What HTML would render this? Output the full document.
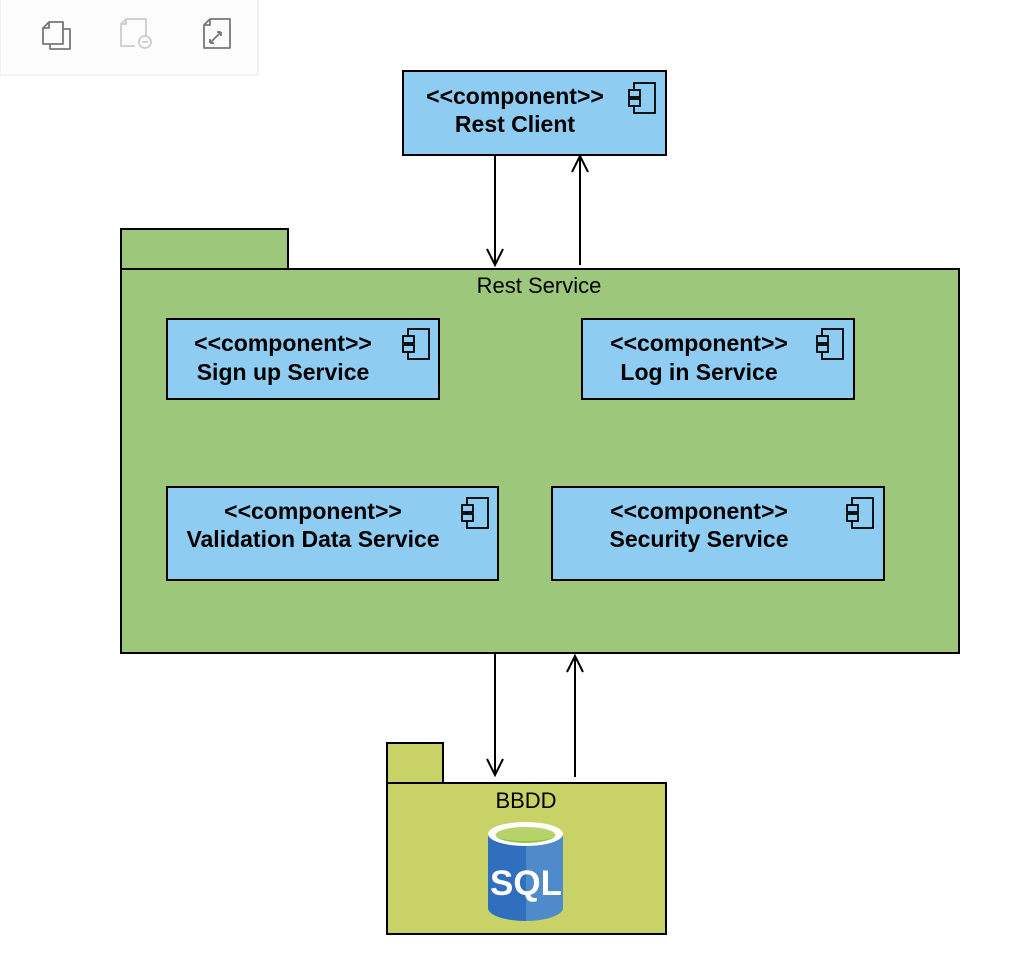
<!DOCTYPE html>
<html><head><meta charset="utf-8"><style>
html,body{margin:0;padding:0;background:#fff;}
svg{display:block;font-family:"Liberation Sans",Arial,sans-serif;}
.b{font-weight:bold;font-size:23px;text-anchor:middle;fill:#000;}
</style></head><body>
<svg width="1034" height="962" viewBox="0 0 1034 962" xmlns="http://www.w3.org/2000/svg">
<defs>
<g id="ic" fill="none" stroke="#000" stroke-width="1.8">
<rect x="5" y="0" width="21" height="30" fill="none"/>
<rect x="0" y="7" width="11" height="7" fill="#8fccf2"/>
<rect x="0" y="16" width="11" height="7" fill="#8fccf2"/>
</g>
</defs>
<!-- toolbar -->
<rect x="0" y="-1" width="258" height="76" fill="#fcfcfc" stroke="#eeeeee" stroke-width="1.5"/>
<g fill="none" stroke="#777" stroke-width="1.8" stroke-linejoin="round">
<path d="M50 29 h20 v20 h-20 z" fill="#fcfcfc"/>
<path d="M43 28 l6 -6 h14 v22 h-20 z" fill="#fcfcfc"/>
<path d="M43 28 h6 v-6"/>
</g>
<g fill="none" stroke="#ccc" stroke-width="1.8" stroke-linejoin="round">
<path d="M146 36 v-17 h-20 l-5 5 v22 h14"/>
<path d="M121 24 h5 v-5"/>
<circle cx="145" cy="42" r="6"/><path d="M142 42 h6"/>
</g>
<g fill="none" stroke="#777" stroke-width="1.8" stroke-linejoin="round">
<path d="M204 25 l6 -6 h20 v29 h-26 z"/><path d="M204 25 h6 v-6"/>
<path d="M210 43 l11 -11 M210 43 v-4 M210 43 h4 M221 32 h-4 M221 32 v4"/>
</g>
<!-- Rest client -->
<rect x="403" y="71" width="263" height="84" fill="#8fccf2" stroke="#000" stroke-width="2"/>
<text class="b" x="515" y="104">&lt;&lt;component&gt;&gt;</text>
<text class="b" x="515" y="132">Rest Client</text>
<use href="#ic" x="629" y="83"/>
<!-- Rest service package -->
<rect x="121" y="229" width="167" height="40" fill="#9dc77a" stroke="#000" stroke-width="2"/>
<rect x="121" y="269" width="838" height="384" fill="#9dc77a" stroke="#000" stroke-width="2"/>
<text x="539" y="293" font-size="22" text-anchor="middle">Rest Service</text>
<rect x="167" y="319" width="272" height="80" fill="#8fccf2" stroke="#000" stroke-width="2"/>
<text class="b" x="283" y="351">&lt;&lt;component&gt;&gt;</text>
<text class="b" x="283" y="380">Sign up Service</text>
<use href="#ic" x="403" y="329"/>
<rect x="582" y="319" width="272" height="80" fill="#8fccf2" stroke="#000" stroke-width="2"/>
<text class="b" x="699" y="351">&lt;&lt;component&gt;&gt;</text>
<text class="b" x="699" y="380">Log in Service</text>
<use href="#ic" x="817" y="329"/>
<rect x="167" y="487" width="331" height="93" fill="#8fccf2" stroke="#000" stroke-width="2"/>
<text class="b" x="313" y="519">&lt;&lt;component&gt;&gt;</text>
<text class="b" x="313" y="547">Validation Data Service</text>
<use href="#ic" x="462" y="498"/>
<rect x="552" y="487" width="332" height="93" fill="#8fccf2" stroke="#000" stroke-width="2"/>
<text class="b" x="699" y="519">&lt;&lt;component&gt;&gt;</text>
<text class="b" x="699" y="547">Security Service</text>
<use href="#ic" x="847" y="498"/>
<!-- arrows -->
<g stroke="#000" stroke-width="2" fill="none">
<path d="M495 155 V265 M487 249 L495 265 L503 249"/>
<path d="M580 265 V156 M572 172 L580 156 L588 172"/>
<path d="M495 653 V775 M487 759 L495 775 L503 759"/>
<path d="M575 777 V656 M567 672 L575 656 L583 672"/>
</g>
<!-- BBDD -->
<rect x="387" y="743" width="56" height="40" fill="#c9d267" stroke="#000" stroke-width="2"/>
<rect x="387" y="783" width="279" height="151" fill="#c9d267" stroke="#000" stroke-width="2"/>
<text x="526" y="808" font-size="22" text-anchor="middle">BBDD</text>
<path d="M488 834 V908 A37.5 13 0 0 0 526 921 V834 Z" fill="#2f6fbe"/>
<path d="M526 834 V921 A37.5 13 0 0 0 563 908 V834 Z" fill="#4f8acb"/>
<ellipse cx="525.5" cy="834" rx="37.5" ry="12" fill="#fff"/>
<ellipse cx="525.5" cy="835" rx="30" ry="8" fill="#b6d36a"/>
<path d="M497 837 A30 6 0 0 0 554 837 A30 8 0 0 1 497 837Z" fill="#8fb93e"/>
<text x="526" y="895" font-size="35" font-weight="bold" fill="#fff" text-anchor="middle">SQL</text>
</svg>
</body></html>
